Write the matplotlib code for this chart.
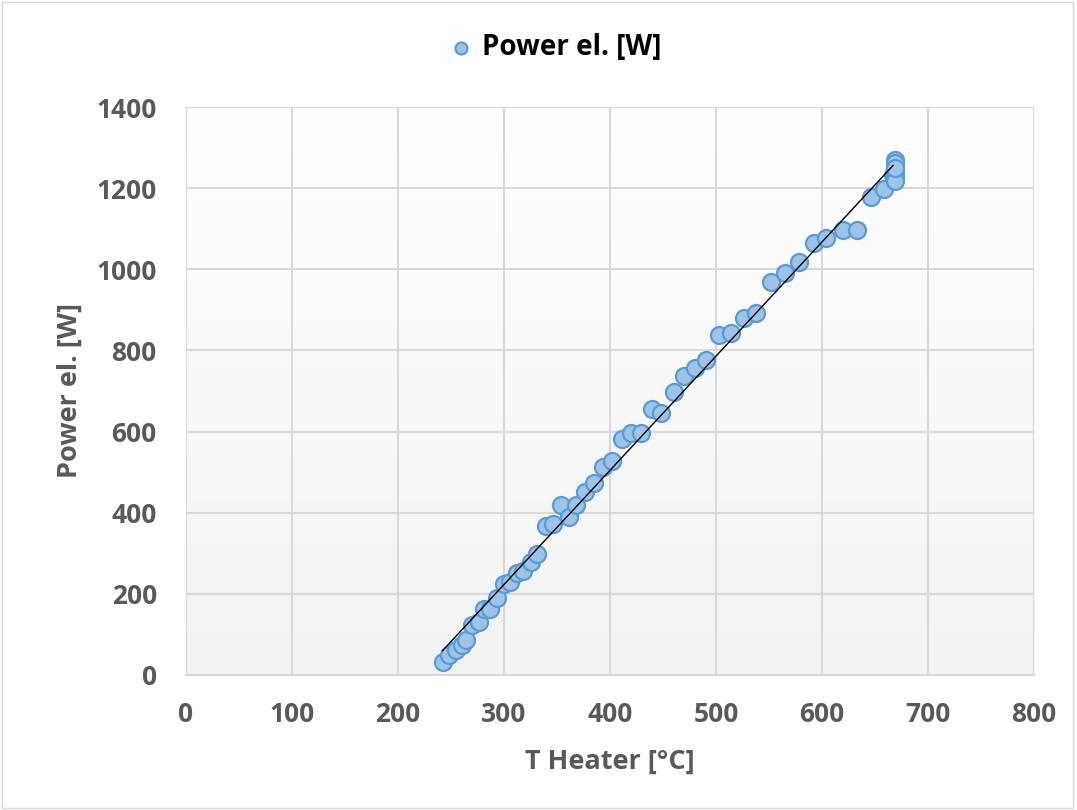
import matplotlib.pyplot as plt
import numpy as np

# data
t_heater = [242, 248, 255, 260, 264, 270, 276, 281, 287, 293, 300, 306, 312, 318,
            325, 331, 340, 346, 354, 361, 368, 376, 385, 393, 402, 411, 420, 429,
            440, 448, 460, 470, 480, 491, 503, 514, 526, 538, 552, 565, 578, 592,
            604, 620, 633, 646, 658, 667, 669, 669, 669, 669, 669, 669]
power_el = [32, 49, 62, 74, 86, 123, 131, 163, 163, 190, 224, 229, 251, 256,
            279, 298, 367, 372, 419, 389, 419, 451, 473, 513, 527, 582, 596, 596,
            656, 646, 698, 737, 757, 776, 838, 843, 880, 892, 969, 991, 1018, 1065,
            1077, 1097, 1097, 1178, 1198, 1232, 1269, 1262, 1240, 1227, 1218, 1250]
x_ticks = [0, 100, 200, 300, 400, 500, 600, 700, 800]
y_ticks = [0, 200, 400, 600, 800, 1000, 1200, 1400]

plt.rcParams['font.family'] = ['Open Sans', 'DejaVu Sans']
grey = '#595959'

fig = plt.figure(figsize=(10.77, 8.10), dpi=100)
fig.patches.append(plt.Rectangle((0.002, 0.002), 0.994, 0.995, transform=fig.transFigure,
                                 fill=False, edgecolor='#d9d9d9', linewidth=1))
ax = fig.add_axes([0.1727, 0.1667, 0.7874, 0.7012])

# light vertical gradient behind the plot area (white on top)
grad = np.linspace(0.0, 1.0, 256).reshape(-1, 1)
ax.imshow(grad, extent=[0, 1, 0, 1], transform=ax.transAxes, aspect='auto',
          cmap=plt.matplotlib.colors.LinearSegmentedColormap.from_list('g', ['#ffffff', '#f2f2f2']),
          vmin=0, vmax=1, zorder=0, origin='upper')

x = np.array(t_heater, dtype=float)
y = np.array(power_el, dtype=float)
ax.scatter(x, y, s=150, facecolor='#9DC3E6', edgecolor='#5B9BD5', linewidth=1.6,
           zorder=3, label='Power el. [W]')

# linear trendline
k, d = np.polyfit(x, y, 1)
xs = np.array([x.min(), x.max() - 2])
ax.plot(xs, k * xs + d, color='black', linewidth=1, zorder=4)

ax.set_xlim(0, 800)
ax.set_ylim(0, 1400)
ax.set_xticks(x_ticks)
ax.set_yticks(y_ticks)
ax.grid(True, color='#d9d9d9', linewidth=1.5, zorder=1)
ax.set_axisbelow(True)
for s in ['top', 'right', 'left']:
    ax.spines[s].set_visible(False)
ax.spines['bottom'].set_color('#d9d9d9')
ax.spines['bottom'].set_linewidth(1.5)
ax.tick_params(length=0, labelsize=19, labelcolor=grey)
ax.tick_params(axis='y', pad=21)
ax.tick_params(axis='x', pad=19)
for lab in ax.get_xticklabels() + ax.get_yticklabels():
    lab.set_fontweight('bold')

ax.set_xlabel('T Heater [°C]', fontsize=19.5, fontweight='bold', color=grey, va='center')
ax.set_ylabel('Power el. [W]', fontsize=19.5, fontweight='bold', color=grey, va='center')
ax.xaxis.set_label_coords(0.5, -0.153)
ax.yaxis.set_label_coords(-0.137, 0.5)

leg = fig.legend(loc='center', bbox_to_anchor=(0.516, 0.941), frameon=False,
                 prop={'size': 20, 'weight': 'bold'}, handlelength=0.8,
                 handletextpad=0.35, markerscale=0.7)

fig.savefig('out.png', dpi=100)
